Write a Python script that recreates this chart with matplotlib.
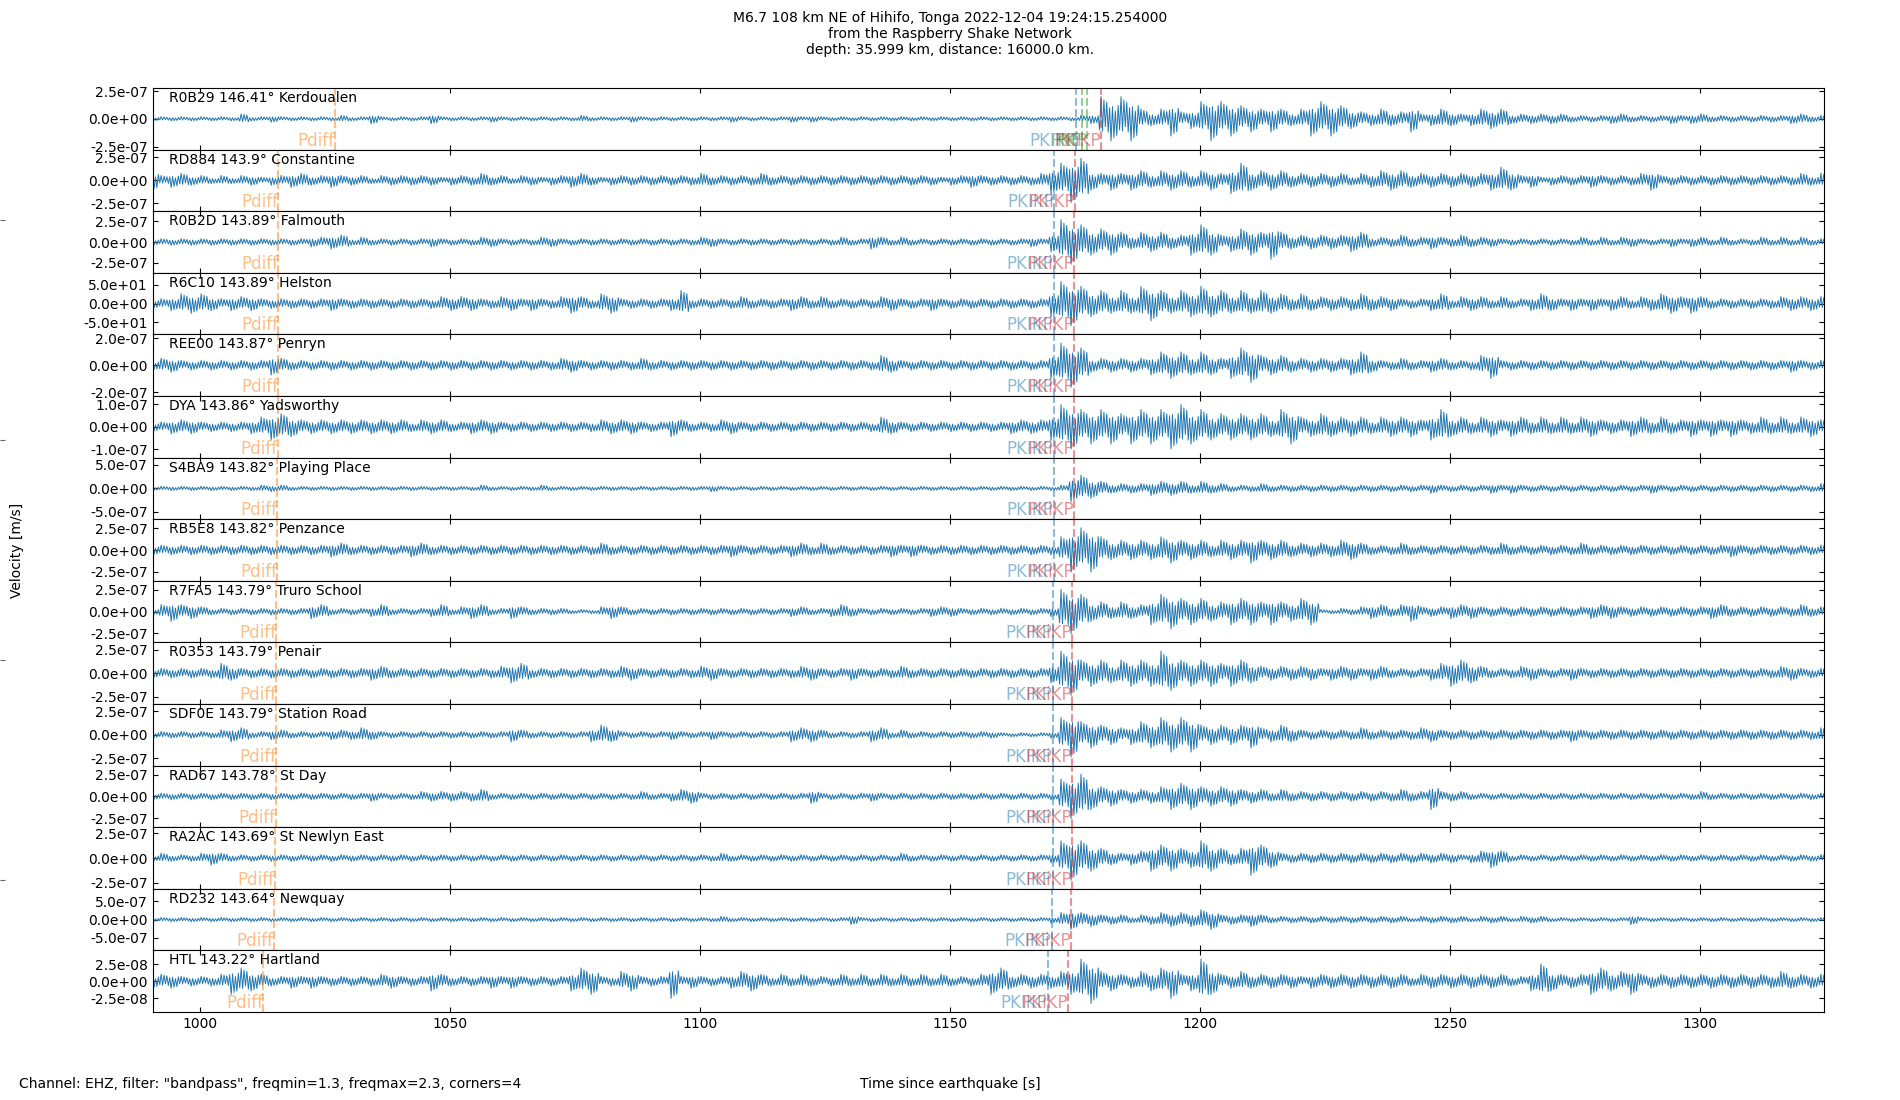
import numpy as np
import matplotlib
matplotlib.use('Agg')
import matplotlib.pyplot as plt
import matplotlib.transforms as mtransforms
from matplotlib.ticker import FormatStrFormatter

# station info, top to bottom
stations = ['R0B29', 'RD884', 'R0B2D', 'R6C10', 'REE00', 'DYA', 'S4BA9', 'RB5E8',
            'R7FA5', 'R0353', 'SDF0E', 'RAD67', 'RA2AC', 'RD232', 'HTL']
distances = ['146.41', '143.9', '143.89', '143.89', '143.87', '143.86', '143.82', '143.82',
             '143.79', '143.79', '143.79', '143.78', '143.69', '143.64', '143.22']
places = ['Kerdoualen', 'Constantine', 'Falmouth', 'Helston', 'Penryn', 'Yadsworthy',
          'Playing Place', 'Penzance', 'Truro School', 'Penair', 'Station Road', 'St Day',
          'St Newlyn East', 'Newquay', 'Hartland']

# half range of each panel and its tick value
y_half = [2.77e-7, 3.36e-7, 3.75e-7, 82.0, 2.27e-7, 1.38e-7, 6.54e-7, 3.54e-7,
          3.54e-7, 3.27e-7, 3.27e-7, 3.54e-7, 3.1e-7, 8.5e-7, 4.55e-8]
y_tick = [2.5e-7, 2.5e-7, 2.5e-7, 50.0, 2.0e-7, 1.0e-7, 5.0e-7, 2.5e-7,
          2.5e-7, 2.5e-7, 2.5e-7, 2.5e-7, 2.5e-7, 5.0e-7, 2.5e-8]

# arrival times [s]
pdiff_t = [1027.0, 1015.7, 1015.7, 1015.7, 1015.7, 1015.6, 1015.5, 1015.5,
           1015.3, 1015.3, 1015.3, 1015.2, 1015.0, 1014.8, 1012.7]
pkikp_t = [1175.3, 1170.9, 1170.8, 1170.8, 1170.8, 1170.8, 1170.8, 1170.8,
           1170.6, 1170.6, 1170.6, 1170.6, 1170.6, 1170.4, 1169.6]
pkikp2_t = [1180.3, 1175.0, 1174.8, 1174.8, 1174.8, 1174.8, 1174.8, 1174.8,
            1174.5, 1174.5, 1174.5, 1174.5, 1174.5, 1174.3, 1173.6]
pkp_t = [[1176.4, 1177.5]] + [[] for _ in range(14)]

# trace envelope, one digit per 2 s starting at 990 s (digit -> fraction of panel half range)
t_start = 990.0
bin_s = 2.0
levels = [0.04, 0.07, 0.11, 0.16, 0.23, 0.32, 0.43, 0.56, 0.72, 0.9]
envelopes = [
    "1111111113 1121111112 1131111131 1111211111 1112111121 1111111121 1111212111 1111111111 1111111111 1112388885 4574578776 6565457776 5445446345 4345553333 3322223322 2232332222 22223322",
    "5344332323 3233443343 3323333332 3334332332 3344323333 3333343333 3433333333 3333333332 3343333334 6788545455 4555455467 5555444444 3445554444 4444565342 3333433334 5333333333 33333434",
    "2222222222 2222223344 2322222232 2223322223 3222222222 2222233222 2222222223 2243232222 2222222232 5887666545 5544676456 6575444444 5533343343 3433322222 2223232332 2232332322 23232322",
    "3345554344 4333333343 3333333334 4443344343 3454355333 3346333334 3333443433 3334433343 3333333333 6887665657 7656676656 5655454444 4544433345 3444343345 4343434434 4554543333 33344444",
    "3443333333 3354333333 3333333333 3333333333 3443333334 3333333333 3333333333 3335433333 3333333333 6887444444 5666565467 7555444444 5643343344 3335633333 3333333333 3333333333 33334333",
    "3344433333 4566544444 4444443444 3344433333 3333344443 3354333443 3333333333 3335433333 3333334444 6887777677 7788776666 6657755655 5545555467 5545545545 4545544455 4544545454 45454554",
    "1111111111 1222111111 1111111111 1112111112 1111111111 1111112111 1111111111 1111111111 1111111111 1266543333 4444343322 2322222222 2222222232 2222323222 2222222222 3222222222 22222223",
    "3333333333 3333333344 3333334433 3333333333 3333343333 3333333343 3333443433 3333434333 3333333333 3688865555 5665554555 6555444445 5433343333 3333343333 3334333333 3333333343 33333333",
    "2454432222 2222224422 2234222234 2344224322 2211134322 2222222222 2222332234 3222222233 3222222222 3887554544 6776665566 6565566112 2344345333 4443333333 3333444333 3333334433 33333433",
    "3333333543 3333333333 3344333333 3333345533 3333333443 3333344333 3333344333 4333343333 3333333333 5886665666 6876666566 5444444344 4344333345 6654333443 3343333333 3333333333 33344333",
    "2222222344 2233222233 3432222222 2222224322 2222454222 2232223222 2222444322 2244232222 2222211111 2786655456 6777755555 6445433333 3433333443 3333333333 3343333333 3333333333 33333334",
    "2222222222 2222222222 2232222333 3334222222 2222222223 2234422222 2222224222 2232222222 2222222222 2788655444 4566655554 4434333333 3333343363 3322222222 2222222222 2222232222 22222222",
    "2322234322 2222222222 2222222222 2222222222 2222222222 2222222322 2222222222 2222232222 2222222222 3787654344 6665576545 7653333333 3333333333 3234542222 2222222222 2222222222 22222222",
    "1111111111 1111111111 1111111111 1111111111 1111111111 1111111211 1111111111 3111111111 1111111111 2454433323 3444455333 4322222222 2222221222 2212221222 1111111131 1111111111 11111111",
    "4443333466 5433434333 3334433354 3333434333 3356633553 3373433345 5434343334 3434343434 3334664444 4568855445 5674586445 4444434444 4444443444 4444443357 5444665564 4444444444 44454444",
]

title = ('M6.7 108 km NE of Hihifo, Tonga 2022-12-04 19:24:15.254000\n'
         'from the Raspberry Shake Network\n'
         'depth: 35.999 km, distance: 16000.0 km.')
footer = 'Channel: EHZ, filter: "bandpass", freqmin=1.3, freqmax=2.3, corners=4'

# wiggle drawing: 7 half cycles per bin (about 1.8 Hz), uneven peaks
wiggle = np.array([0.5, 1.0, 0.55, 0.85, 0.35, 0.75, 0.6])
blue, orange, green, red = '#1f77b4', '#ff7f0e', '#2ca02c', '#d62728'

fig, axs = plt.subplots(len(stations), 1, figsize=(19, 11), dpi=100, sharex=True)
fig.subplots_adjust(left=0.0804, right=0.96, top=0.92, bottom=0.08, hspace=0)

bg = fig.add_axes([0, 0, 1, 1], frameon=False, zorder=-1)
bg.set_xlim(0, 1)
bg.set_ylim(0, 1)
bg.set_xticks([])
bg.set_yticks([0.2, 0.4, 0.6, 0.8])
bg.set_yticklabels([])
bg.tick_params(direction='in', color='0.4')

for i, ax in enumerate(axs):
    env = np.array([levels[int(c)] for c in envelopes[i].replace(' ', '')]) * y_half[i]
    n = len(env)
    t = t_start + np.arange(n * len(wiggle)) * bin_s / len(wiggle)
    sign = np.where(np.arange(t.size) % 2 == 0, 1.0, -1.0)
    y = np.repeat(env, len(wiggle)) * np.tile(wiggle, n) * sign
    ax.plot(t, y, color=blue, lw=0.7)

    ax.set_ylim(-y_half[i], y_half[i])
    ax.set_yticks([-y_tick[i], 0, y_tick[i]])
    ax.yaxis.set_major_formatter(FormatStrFormatter('%.1e'))
    ax.tick_params(direction='in', top=True, right=True, labelsize=10)
    ax.text(0.01, 0.95, f'{stations[i]} {distances[i]}° {places[i]}',
            transform=ax.transAxes, va='top', fontsize=10)

    trans = mtransforms.blended_transform_factory(ax.transData, ax.transAxes)
    arrivals = [('Pdiff', pdiff_t[i], orange), ('PKIKP', pkikp_t[i], blue)]
    arrivals += [('PKP', tp, green) for tp in pkp_t[i]]
    arrivals.append(('PKiKP', pkikp2_t[i], red))
    for name, ta, col in arrivals:
        ax.axvline(ta, color=col, ls='--', lw=1.5, alpha=0.5)
        ax.text(ta, 0.0, name, transform=trans, ha='right', va='bottom',
                color=col, alpha=0.5, fontsize=12)

axs[-1].set_xlim(990.6, 1324.9)
axs[-1].set_xticks(np.arange(1000, 1301, 50))

fig.suptitle(title, fontsize=10, y=0.99, va='top')
fig.text(0.01, 0.0145, footer, fontsize=10, va='center')
fig.text(0.5, 0.0145, 'Time since earthquake [s]', fontsize=10, ha='center', va='center')
fig.text(0.0092, 0.5, 'Velocity [m/s]', fontsize=10, rotation=90, ha='center', va='center')

fig.savefig('out.png', dpi=100)
